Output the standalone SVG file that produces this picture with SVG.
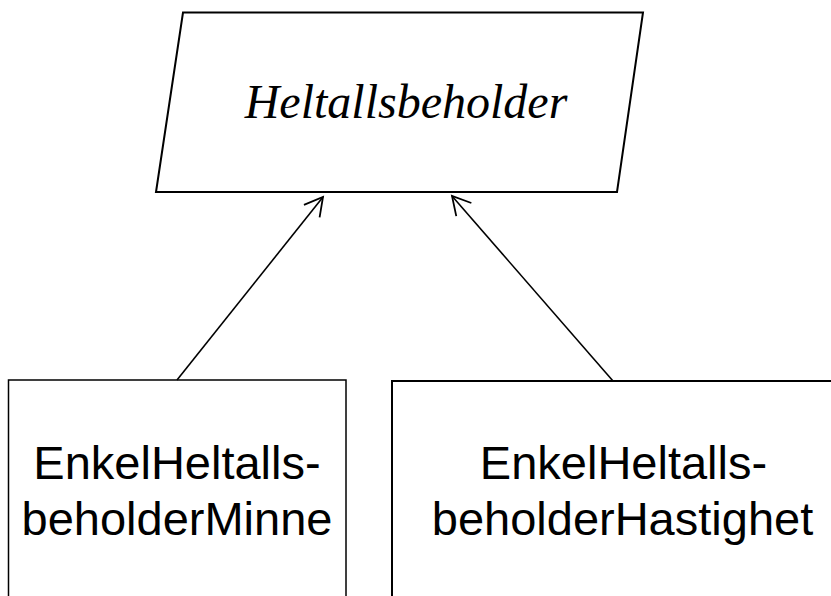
<svg xmlns="http://www.w3.org/2000/svg" width="831" height="596" viewBox="0 0 831 596">
<style>
.shape{fill:#ffffff;stroke:#000000;}
.conn{stroke:#000000;stroke-width:1.6;fill:none;}
.sans{font-family:"Liberation Sans",Arial,sans-serif;font-size:47px;fill:#000000;text-anchor:middle;}
.serif{font-family:"Liberation Serif","Times New Roman",serif;font-size:48px;font-style:italic;fill:#000000;text-anchor:middle;}
</style>
<defs>
<marker id="open" markerUnits="userSpaceOnUse" markerWidth="30" markerHeight="30" viewBox="-25 -15 30 30" refX="0" refY="0" orient="auto">
<path d="M-18,-10 L0,0 L-18,10" fill="none" stroke="#000000" stroke-width="1.8"/>
</marker>
</defs>
<rect width="831" height="596" fill="#ffffff"/>
<g id="node-heltallsbeholder">
<polygon class="shape" stroke-width="2" points="183,12.5 643,12.5 617,192 156,192"/>
<text class="serif" x="406" y="117.5">Heltallsbeholder</text>
</g>
<g id="node-minne">
<rect class="shape" stroke-width="1.5" x="8.5" y="380" width="337.5" height="240"/>
<text class="sans" x="177" y="478.5">EnkelHeltalls-</text>
<text class="sans" x="177" y="535">beholderMinne</text>
</g>
<g id="node-hastighet">
<rect class="shape" stroke-width="2" x="392" y="381" width="470" height="240"/>
<text class="sans" x="623.5" y="478.5">EnkelHeltalls-</text>
<text class="sans" x="622.5" y="535">beholderHastighet</text>
</g>
<g id="connectors">
<line class="conn" x1="177" y1="380" x2="323" y2="197" marker-end="url(#open)"/>
<line class="conn" x1="613" y1="381" x2="452" y2="196" marker-end="url(#open)"/>
</g>
</svg>
